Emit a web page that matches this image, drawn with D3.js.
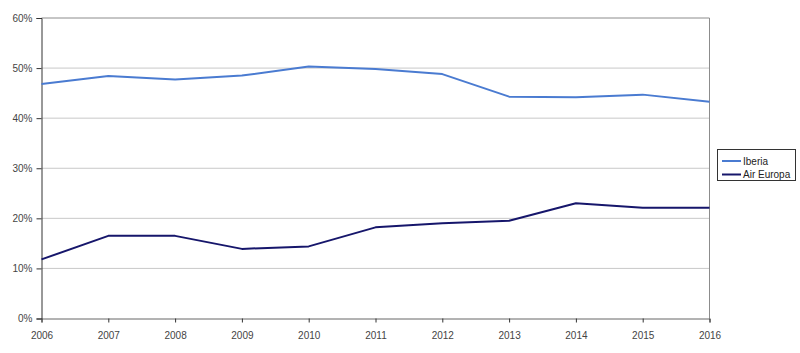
<!DOCTYPE html>
<html><head><meta charset="utf-8">
<script src="https://cdn.jsdelivr.net/npm/d3@7"></script>
<style>body{margin:0;background:#fff}svg{display:block}text{font-family:"Liberation Sans",Arial,sans-serif}</style>
</head><body><svg id="c" width="800" height="353"></svg>
<script>
const years = [2006,2007,2008,2009,2010,2011,2012,2013,2014,2015,2016];
const iberia = [46.8,48.4,47.7,48.5,50.3,49.8,48.8,44.3,44.2,44.7,43.3];
const airEuropa = [11.8,16.5,16.5,13.9,14.4,18.2,19.0,19.5,23.0,22.1,22.1];
const yTicks = [0,10,20,30,40,50,60];
const seriesNames = ["Iberia","Air Europa"];
const seriesColors = ["#4a7bd1","#16166b"];

const svg = d3.select("#c");
const x = d3.scaleLinear().domain([2006,2016]).range([41.5,709.5]);
const y = d3.scaleLinear().domain([0,60]).range([318.5,18]);

// gridlines
svg.append("g").selectAll("line").data(yTicks.filter(d=>d>0 && d<60)).join("line")
  .attr("x1",x(2006)).attr("x2",x(2016)).attr("y1",d=>y(d)).attr("y2",d=>y(d))
  .attr("stroke","#c8c8c8").attr("stroke-width",1);
// frame top/right
svg.append("path").attr("d",`M${x(2006)},${y(60)}H${x(2016)}V${y(0)}`)
  .attr("fill","none").attr("stroke","#8c8c8c").attr("stroke-width",1);

const yAxis = d3.axisLeft(y).tickValues(yTicks).tickFormat(d=>d+"%").tickSize(5).tickPadding(4);
const gy = svg.append("g").attr("transform",`translate(${x(2006)},0)`).call(yAxis);
gy.select(".domain").attr("stroke","#333");
gy.selectAll(".tick line").attr("stroke","#333");
gy.selectAll("text").attr("font-size",10).attr("fill","#444").attr("font-family","Liberation Sans, Arial, sans-serif");

const xAxis = d3.axisBottom(x).tickValues(years).tickFormat(d3.format("d")).tickSize(4).tickPadding(9);
const gx = svg.append("g").attr("transform",`translate(0,${y(0)})`).call(xAxis);
gx.select(".domain").attr("stroke","#666");
gx.selectAll(".tick line").attr("stroke","#333");
gx.selectAll("text").attr("font-size",10).attr("fill","#444").attr("font-family","Liberation Sans, Arial, sans-serif");

const line = d3.line().x((d,i)=>x(years[i])).y(d=>y(d));
[iberia, airEuropa].forEach((s,k)=>{
  svg.append("path").attr("d",line(s)).attr("fill","none")
    .attr("stroke",seriesColors[k]).attr("stroke-width",2).attr("stroke-linejoin","round");
});

// legend
const lg = svg.append("g");
lg.append("rect").attr("x",717.5).attr("y",149.5).attr("width",78).attr("height",31)
  .attr("fill","#fff").attr("stroke","#333").attr("stroke-width",1);
seriesNames.forEach((n,k)=>{
  const yy = 161 + k*13.5;
  lg.append("line").attr("x1",722).attr("x2",741).attr("y1",yy).attr("y2",yy)
    .attr("stroke",seriesColors[k]).attr("stroke-width",2);
  lg.append("text").attr("x",743).attr("y",yy+3.5).attr("font-size",10).attr("fill","#222").text(n);
});
</script></body></html>
